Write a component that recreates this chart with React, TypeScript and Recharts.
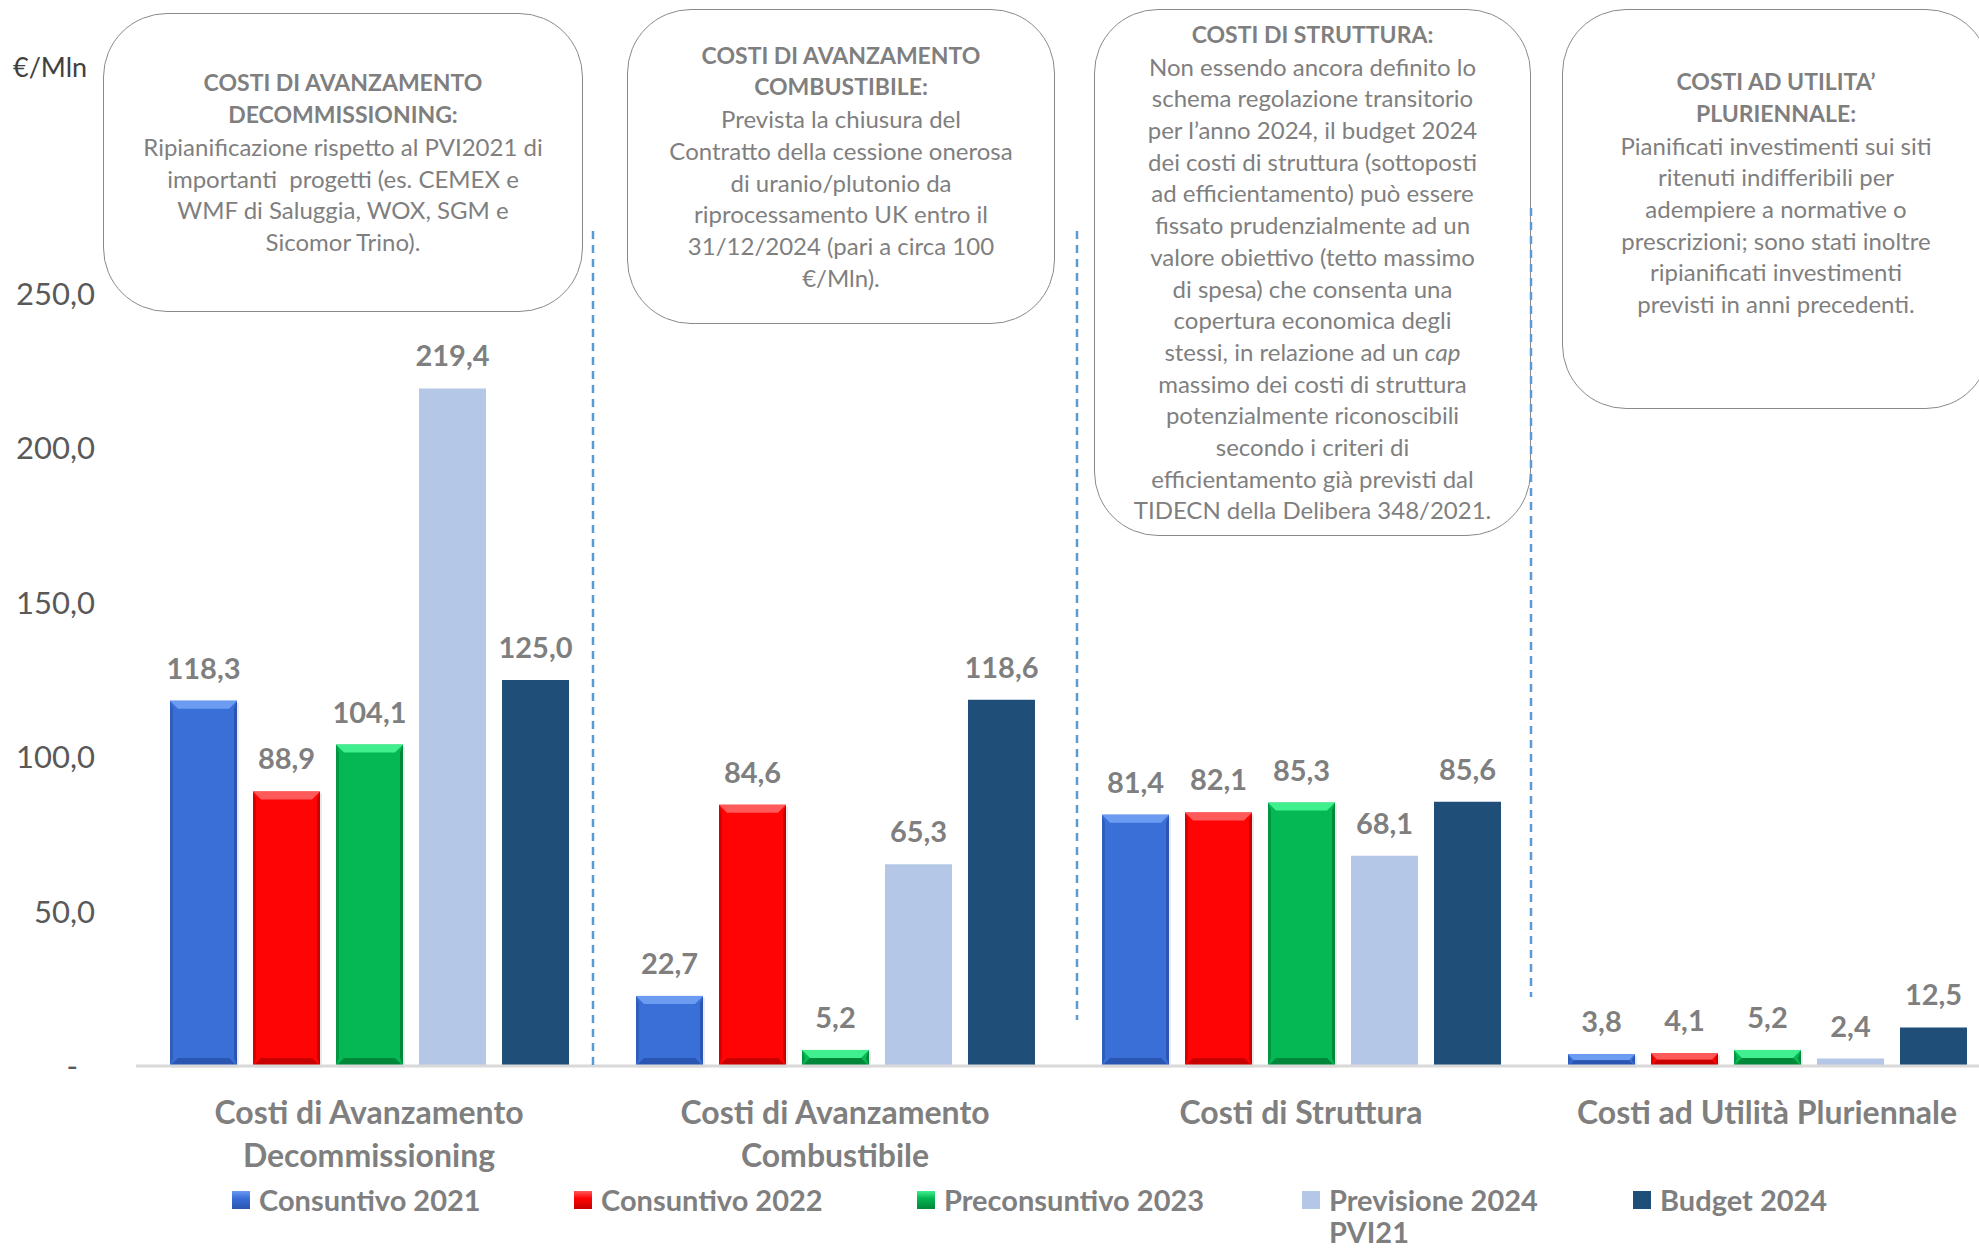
import React from "react";
import { BarChart, Bar, XAxis, YAxis, LabelList } from "recharts";

// Valori in €/Mln per categoria di costo
const CATEGORIES = [
  "Costi di Avanzamento Decommissioning",
  "Costi di Avanzamento Combustibile",
  "Costi di Struttura",
  "Costi ad Utilità Pluriennale",
];
const CONSUNTIVO_2021 = [118.3, 22.7, 81.4, 3.8];
const CONSUNTIVO_2022 = [88.9, 84.6, 82.1, 4.1];
const PRECONSUNTIVO_2023 = [104.1, 5.2, 85.3, 5.2];
const PREVISIONE_2024 = [219.4, 65.3, 68.1, 2.4];
const BUDGET_2024 = [125.0, 118.6, 85.6, 12.5];
const Y_TICKS = [0, 50, 100, 150, 200, 250];

const SERIES = [
  { key: "c21", name: "Consuntivo 2021", values: CONSUNTIVO_2021, color: "#3A6FD8", light: "#6C9BF2", dark: "#2A55B0", bevel: true },
  { key: "c22", name: "Consuntivo 2022", values: CONSUNTIVO_2022, color: "#FF0404", light: "#FF5A5A", dark: "#C80000", bevel: true },
  { key: "p23", name: "Preconsuntivo 2023", values: PRECONSUNTIVO_2023, color: "#05B853", light: "#40F08E", dark: "#00873A", bevel: true },
  { key: "pr24", name: "Previsione 2024 PVI21", values: PREVISIONE_2024, color: "#B4C7E7", light: "#B4C7E7", dark: "#B4C7E7", bevel: false },
  { key: "b24", name: "Budget 2024", values: BUDGET_2024, color: "#1F4E79", light: "#1F4E79", dark: "#1F4E79", bevel: false },
];

const DATA = CATEGORIES.map((name, i) => {
  const row: Record<string, string | number> = { name };
  SERIES.forEach((s) => (row[s.key] = s.values[i]));
  return row;
});

// note boxes above the chart
const NOTES = [
  {
    box: { left: 103, top: 13, width: 480, height: 299 },
    title: ["COSTI DI AVANZAMENTO", "DECOMMISSIONING:"],
    body: ["Ripianificazione rispetto al PVI2021 di", "importanti  progetti (es. CEMEX e", "WMF di Saluggia, WOX, SGM e", "Sicomor Trino)."],
  },
  {
    box: { left: 627, top: 9, width: 428, height: 315 },
    title: ["COSTI DI AVANZAMENTO", "COMBUSTIBILE:"],
    body: ["Prevista la chiusura del", "Contratto della cessione onerosa", "di uranio/plutonio da", "riprocessamento UK entro il", "31/12/2024 (pari a circa 100", "€/Mln)."],
  },
  {
    box: { left: 1094, top: 9, width: 437, height: 527 },
    title: ["COSTI DI STRUTTURA:"],
    body: [
      "Non essendo ancora definito lo",
      "schema regolazione transitorio",
      "per l’anno 2024, il budget 2024",
      "dei costi di struttura (sottoposti",
      "ad efficientamento) può essere",
      "fissato prudenzialmente ad un",
      "valore obiettivo (tetto massimo",
      "di spesa) che consenta una",
      "copertura economica degli",
      "stessi, in relazione ad un |cap|",
      "massimo dei costi di struttura",
      "potenzialmente riconoscibili",
      "secondo i criteri di",
      "efficientamento già previsti dal",
      "TIDECN della Delibera 348/2021.",
    ],
  },
  {
    box: { left: 1562, top: 9, width: 428, height: 400, paddingBottom: 32 },
    title: ["COSTI AD UTILITA’", "PLURIENNALE:"],
    body: ["Pianificati investimenti sui siti", "ritenuti indifferibili per", "adempiere a normative o", "prescrizioni; sono stati inoltre", "ripianificati investimenti", "previsti in anni precedenti."],
  },
];

const FONT = "Lato, 'Open Sans', sans-serif";
const GREY = "#7F7F7F";
const LEGEND_X = [232, 574, 917, 1302, 1633];

const fmt = (v: number) => v.toFixed(1).replace(".", ",");

function BevelBar(props: any) {
  const { x, y, width, height, fill, light, dark } = props;
  if (!height || height <= 0) return null;
  const b = Math.min(8, height / 2);
  const s = Math.min(3, width / 4);
  return (
    <g>
      <rect x={x + 2} y={y + 2} width={width} height={height} fill="#000" opacity={0.08} />
      <rect x={x} y={y} width={width} height={height} fill={fill} />
      <polygon points={`${x},${y} ${x + s},${y + b} ${x + s},${y + height - b} ${x},${y + height}`} fill={dark} opacity={0.7} />
      <polygon points={`${x + width},${y} ${x + width - s},${y + b} ${x + width - s},${y + height - b} ${x + width},${y + height}`} fill={dark} />
      <polygon points={`${x},${y} ${x + width},${y} ${x + width - b},${y + b} ${x + b},${y + b}`} fill={light} />
      <polygon points={`${x},${y + height} ${x + width},${y + height} ${x + width - b},${y + height - b} ${x + b},${y + height - b}`} fill={dark} />
    </g>
  );
}

function YTick({ x, y, payload }: any) {
  const v = payload.value as number;
  return (
    <text x={v === 0 ? x - 17 : x} y={y} dy={11} textAnchor="end" fill="#595959" fontFamily={FONT} fontSize={31}>
      {v === 0 ? "-" : fmt(v)}
    </text>
  );
}

function wrap(label: string, max: number) {
  const lines: string[] = [];
  let cur = "";
  label.split(" ").forEach((w) => {
    const next = cur ? cur + " " + w : w;
    if (next.length > max && cur) {
      lines.push(cur);
      cur = w;
    } else cur = next;
  });
  if (cur) lines.push(cur);
  return lines;
}

function XTick({ x, y, payload }: any) {
  const lines = wrap(payload.value, 30);
  return (
    <text x={x} y={y + 50} textAnchor="middle" fill={GREY} fontFamily={FONT} fontSize={32} fontWeight={700}>
      {lines.map((l, i) => (
        <tspan key={i} x={x} dy={i === 0 ? 0 : 43}>
          {l}
        </tspan>
      ))}
    </text>
  );
}

function NoteBox({ note }: any) {
  const { paddingBottom, ...pos } = note.box;
  return (
    <div
      style={{
        position: "absolute",
        ...pos,
        paddingBottom: paddingBottom || 0,
        boxSizing: "border-box",
        border: "1.5px solid #8A8A8A",
        borderRadius: 64,
        display: "flex",
        flexDirection: "column",
        justifyContent: "center",
        alignItems: "center",
        textAlign: "center",
        color: GREY,
        fontFamily: FONT,
        fontSize: 24,
        lineHeight: "31.7px",
      }}
    >
      {note.title.map((t: string, i: number) => (
        <div key={"t" + i} style={{ fontWeight: 700, fontSize: 23, whiteSpace: "pre" }}>
          {t}
        </div>
      ))}
      {note.body.map((t: string, i: number) => {
        const parts = t.split("|");
        return (
          <div key={"b" + i} style={{ whiteSpace: "pre" }}>
            {parts.map((p, j) => (j % 2 === 1 ? <i key={j}>{p}</i> : <span key={j}>{p}</span>))}
          </div>
        );
      })}
    </div>
  );
}

export default function App() {
  return (
    <div style={{ position: "absolute", left: 0, top: 0, width: 1979, height: 1250, overflow: "hidden", background: "#fff" }}>
      <BarChart
        width={2000}
        height={1250}
        data={DATA}
        margin={{ top: 294, right: 0, left: 36, bottom: 84 }}
        barSize={67}
        barGap={16}
      >
        <XAxis
          dataKey="name"
          interval={0}
          height={100}
          tickLine={false}
          axisLine={{ stroke: "#D9D9D9", strokeWidth: 3 }}
          tick={<XTick />}
        />
        <YAxis
          width={100}
          domain={[0, 250]}
          ticks={Y_TICKS}
          axisLine={false}
          tickLine={false}
          tickMargin={35}
          tick={<YTick />}
        />
        {SERIES.map((s) => (
          <Bar
            key={s.key}
            dataKey={s.key}
            name={s.name}
            fill={s.color}
            isAnimationActive={false}
            shape={s.bevel ? (p: any) => <BevelBar {...p} fill={s.color} light={s.light} dark={s.dark} /> : undefined}
          >
            <LabelList
              dataKey={s.key}
              position="top"
              offset={22}
              formatter={(v: any) => fmt(Number(v))}
              fill={GREY}
              fontFamily={FONT}
              fontSize={29}
              fontWeight={700}
            />
          </Bar>
        ))}
      </BarChart>

      <div style={{ position: "absolute", left: 13, top: 50, fontFamily: FONT, fontSize: 27, color: "#404040" }}>€/Mln</div>

      {NOTES.map((n, i) => (
        <NoteBox key={i} note={n} />
      ))}

      <svg width={1979} height={1250} style={{ position: "absolute", left: 0, top: 0, pointerEvents: "none" }}>
        {[
          [593, 231, 1066],
          [1077, 231, 1020],
          [1531, 208, 997],
        ].map(([x, y1, y2], i) => (
          <line key={i} x1={x} x2={x} y1={y1} y2={y2} stroke="#5B9BD5" strokeWidth={2.5} strokeDasharray="8 6" />
        ))}
      </svg>

      {SERIES.map((s, i) => (
        <div
          key={s.key}
          style={{
            position: "absolute",
            left: LEGEND_X[i],
            top: 1184,
            display: "flex",
            alignItems: "flex-start",
            fontFamily: FONT,
            fontSize: 29,
            fontWeight: 700,
            color: GREY,
            lineHeight: "32px",
          }}
        >
          <div
            style={{
              width: 18,
              height: 18,
              marginTop: 7,
              marginRight: 9,
              background: s.bevel ? `linear-gradient(180deg, ${s.light} 0%, ${s.color} 40%, ${s.dark} 100%)` : s.color,
            }}
          />
          <div style={{ width: s.key === "pr24" ? 240 : "auto", whiteSpace: s.key === "pr24" ? "normal" : "nowrap" }}>{s.name}</div>
        </div>
      ))}
    </div>
  );
}
